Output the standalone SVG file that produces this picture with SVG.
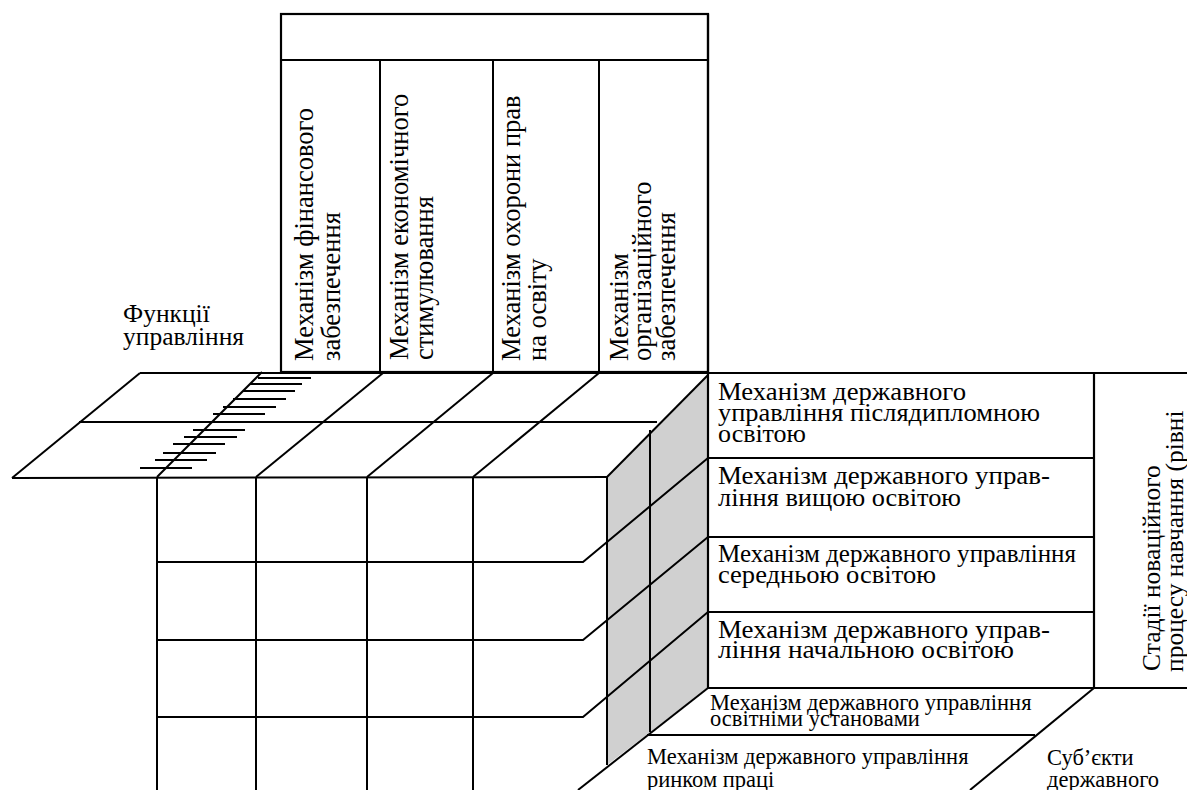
<svg xmlns="http://www.w3.org/2000/svg" width="1187" height="790" viewBox="0 0 1187 790">
  <style>
    .ln { stroke: #000; stroke-width: 2; fill: none; }
    .bx { stroke: #000; stroke-width: 2.2; fill: none; }
    .face { fill: #d0d0d0; stroke: none; }
    text { font-family: "Liberation Serif", "Times New Roman", serif; fill: #000; }
    .t { font-size: 25.5px; }
    .tv { font-size: 26.5px; }
    .tf { font-size: 25.5px; }
    .ts { font-size: 22.5px; }
  </style>

  <!-- shaded right face of the cube -->
  <polygon class="face" points="607,477 708,375 708,688 607,765"/>

  <!-- grid, planes and cube edges -->
  <g id="connectors">
    <!-- upper plane: long top edge and middle line -->
    <line class="ln" x1="140" y1="373" x2="1187" y2="373"/>
    <line class="ln" x1="79" y1="422" x2="657" y2="422"/>
    <line class="ln" x1="12" y1="478" x2="607" y2="477"/>
    <!-- plane left edge and oblique edges -->
    <line class="ln" x1="12" y1="478" x2="140" y2="373"/>
    <line class="ln" x1="157" y1="477" x2="262" y2="372"/>
    <line class="ln" x1="256" y1="477" x2="383" y2="373"/>
    <line class="ln" x1="367" y1="477" x2="493" y2="373"/>
    <line class="ln" x1="473" y1="477" x2="599" y2="373"/>
    <line class="ln" x1="607" y1="477" x2="708" y2="375"/>
    <!-- scale ticks along the function axis -->
    <g class="ln">
      <line x1="258" y1="378" x2="311" y2="378"/>
      <line x1="250" y1="384" x2="302" y2="384"/>
      <line x1="243" y1="391" x2="295" y2="391"/>
      <line x1="233" y1="399" x2="286" y2="399"/>
      <line x1="223" y1="407" x2="276" y2="407"/>
      <line x1="213" y1="414" x2="265" y2="414"/>
      <line x1="193" y1="430" x2="245" y2="430"/>
      <line x1="184" y1="437" x2="237" y2="437"/>
      <line x1="173" y1="444" x2="225" y2="444"/>
      <line x1="163" y1="453" x2="216" y2="453"/>
      <line x1="155" y1="460" x2="207" y2="460"/>
      <line x1="140" y1="468" x2="192" y2="468"/>
    </g>
    <!-- front face columns -->
    <line class="ln" x1="157" y1="477" x2="157" y2="790"/>
    <line class="ln" x1="256" y1="477" x2="256" y2="790"/>
    <line class="ln" x1="367" y1="477" x2="367" y2="790"/>
    <line class="ln" x1="473" y1="477" x2="473" y2="790"/>
    <line class="ln" x1="607" y1="477" x2="607" y2="765"/>
    <line class="ln" x1="650" y1="430" x2="650" y2="732"/>
    <!-- front face rows turning onto the side face -->
    <polyline class="ln" points="157,562 583,562 708,458"/>
    <polyline class="ln" points="157,640 583,640 708,537"/>
    <polyline class="ln" points="157,717 583,717 708,612"/>
    <!-- lower plane -->
    <line class="ln" x1="708" y1="688" x2="578" y2="790"/>
    <line class="ln" x1="647" y1="735" x2="1035" y2="735"/>
    <line class="ln" x1="1094" y1="688" x2="970" y2="790"/>
  </g>

  <!-- header block with mechanism columns -->
  <g id="mechanisms-top">
    <rect class="bx" x="281" y="14" width="427" height="358"/>
    <line class="ln" x1="281" y1="60" x2="708" y2="60"/>
    <line class="ln" x1="380" y1="60" x2="380" y2="372"/>
    <line class="ln" x1="493" y1="60" x2="493" y2="372"/>
    <line class="ln" x1="599" y1="60" x2="599" y2="372"/>
  </g>
  <g id="col-finance">
    <text class="tv" transform="translate(313,361) rotate(-90)">Механізм фінансового</text>
    <text class="tv" transform="translate(340,361) rotate(-90)">забезпечення</text>
  </g>
  <g id="col-economic">
    <text class="tv" transform="translate(408,360) rotate(-90)">Механізм економічного</text>
    <text class="tv" transform="translate(433,360) rotate(-90)">стимулювання</text>
  </g>
  <g id="col-rights">
    <text class="tv" transform="translate(520,361) rotate(-90)">Механізм охорони прав</text>
    <text class="tv" transform="translate(546,361) rotate(-90)">на освіту</text>
  </g>
  <g id="col-organisational">
    <text class="tv" transform="translate(628,361) rotate(-90)">Механізм</text>
    <text class="tv" transform="translate(651,361) rotate(-90)">організаційного</text>
    <text class="tv" transform="translate(675,361) rotate(-90)">забезпечення</text>
  </g>

  <g id="functions-label">
    <text class="tf" x="123" y="322">Функції</text>
    <text class="tf" x="123" y="345">управління</text>
  </g>

  <!-- education levels on the right -->
  <g id="levels">
    <line class="bx" x1="708" y1="14" x2="708" y2="688"/>
    <line class="bx" x1="1094" y1="373" x2="1094" y2="688"/>
    <line class="ln" x1="708" y1="458" x2="1094" y2="458"/>
    <line class="ln" x1="708" y1="537" x2="1094" y2="537"/>
    <line class="ln" x1="708" y1="612" x2="1094" y2="612"/>
    <line class="bx" x1="708" y1="688" x2="1187" y2="688"/>
  </g>
  <g id="level-postgraduate">
    <text class="t" x="718" y="399.5" textLength="248" lengthAdjust="spacingAndGlyphs">Механізм державного</text>
    <text class="t" x="718" y="420.5" textLength="322" lengthAdjust="spacingAndGlyphs">управління післядипломною</text>
    <text class="t" x="718" y="442" textLength="88" lengthAdjust="spacingAndGlyphs">освітою</text>
  </g>
  <g id="level-higher">
    <text class="t" x="718" y="484" textLength="332" lengthAdjust="spacingAndGlyphs">Механізм державного управ-</text>
    <text class="t" x="718" y="505.5" textLength="243" lengthAdjust="spacingAndGlyphs">ління вищою освітою</text>
  </g>
  <g id="level-secondary">
    <text class="t" x="718" y="561.5" textLength="358" lengthAdjust="spacingAndGlyphs">Механізм державного управління</text>
    <text class="t" x="718" y="582.5" textLength="218" lengthAdjust="spacingAndGlyphs">середньою освітою</text>
  </g>
  <g id="level-primary">
    <text class="t" x="718" y="638" textLength="332" lengthAdjust="spacingAndGlyphs">Механізм державного управ-</text>
    <text class="t" x="718" y="657.5" textLength="296" lengthAdjust="spacingAndGlyphs">ління начальною освітою</text>
  </g>
  <g id="stages-label">
    <text class="tf" transform="translate(1160,671) rotate(-90)">Стадії новаційного</text>
    <text class="tf" transform="translate(1183,672) rotate(-90)">процесу навчання (рівні</text>
  </g>

  <!-- subjects on the lower plane -->
  <g id="subject-institutions">
    <text class="ts" x="710" y="709.5">Механізм державного управління</text>
    <text class="ts" x="710" y="726">освітніми установами</text>
  </g>
  <g id="subject-labour-market">
    <text class="ts" x="647" y="764">Механізм державного управління</text>
    <text class="ts" x="647" y="786.5">ринком праці</text>
  </g>
  <g id="subjects-label">
    <text class="ts" x="1047" y="765">Суб’єкти</text>
    <text class="ts" x="1047" y="786.5">державного</text>
  </g>
</svg>
